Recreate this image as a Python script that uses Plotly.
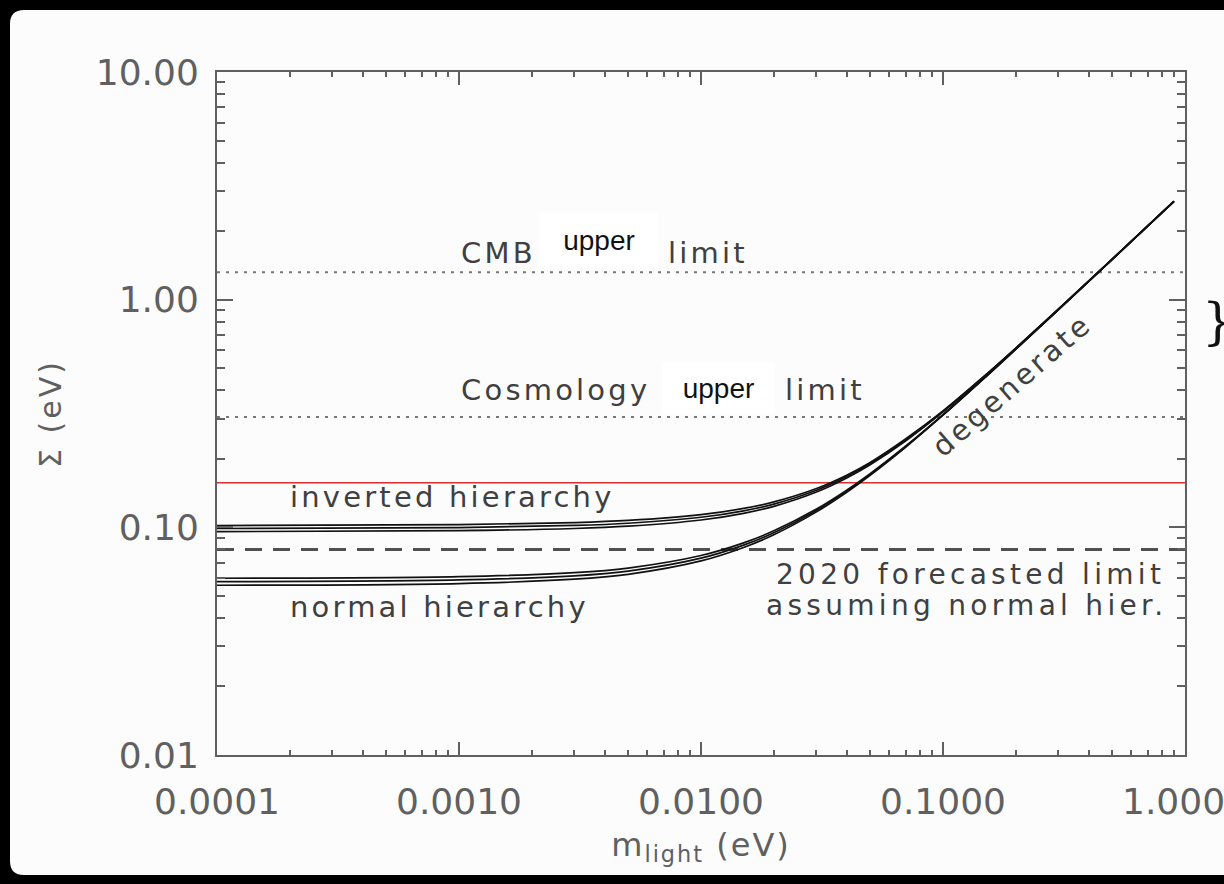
import plotly.graph_objects as go

# ---- data ----
m_light = [0.0001, 0.001, 0.003, 0.005, 0.01, 0.015, 0.02, 0.03, 0.04, 0.05,
           0.07, 0.1, 0.15, 0.2, 0.3, 0.5, 0.9]

normal_low = [0.05566, 0.05663, 0.05917, 0.06217, 0.07119, 0.08156, 0.09278, 0.1169,
              0.14257, 0.1693, 0.22479, 0.31082, 0.45741, 0.60562, 0.90376, 1.50228, 2.70126]
normal_mid = [0.05775, 0.05872, 0.06125, 0.06424, 0.07323, 0.08355, 0.09471, 0.11867,
              0.14418, 0.17074, 0.22597, 0.31173, 0.45805, 0.6061, 0.9041, 1.5025, 2.7014]
normal_high = [0.05975, 0.06072, 0.06325, 0.06623, 0.07519, 0.08547, 0.09656, 0.12038,
               0.14574, 0.17215, 0.22713, 0.31262, 0.45868, 0.60659, 0.90442, 1.50268, 2.70148]

inverted_low = [0.09575, 0.09668, 0.09884, 0.10118, 0.10772, 0.11525, 0.12368, 0.14291,
                0.1647, 0.18838, 0.23956, 0.3217, 0.46488, 0.61128, 0.90758, 1.50457, 2.70254]
inverted_mid = [0.09884, 0.09976, 0.10192, 0.10424, 0.11074, 0.11819, 0.12654, 0.14554,
                0.16709, 0.19053, 0.24132, 0.32305, 0.46583, 0.612, 0.90807, 1.50487, 2.7027]
inverted_high = [0.10183, 0.10275, 0.10491, 0.10722, 0.11368, 0.12107, 0.12931, 0.14811,
                 0.16942, 0.19265, 0.24421, 0.32439, 0.46678, 0.61274, 0.90856, 1.50517, 2.70286]

x_range = [0.0001, 1.0]
cmb_limit = 1.32
cosmology_limit = 0.305
red_limit = 0.157
forecast_limit = 0.080

x_tickvals = [0.0001, 0.001, 0.01, 0.1, 1.0]
x_ticktext = ["0.0001", "0.0010", "0.0100", "0.1000", "1.0000"]
y_tickvals = [0.01, 0.1, 1.0, 10.0]
y_ticktext = ["0.01", "0.10", "1.00", "10.00"]

# ---- figure ----
fig = go.Figure()

FONT = "DejaVu Sans"
AX = "#606060"
TXT = "#404040"

def hline(y, color, dash, width):
    fig.add_trace(go.Scatter(x=x_range, y=[y, y], mode="lines",
                             line=dict(color=color, dash=dash, width=width),
                             hoverinfo="skip", showlegend=False))

hline(cmb_limit, "#777777", "3px,6px", 2)
hline(cosmology_limit, "#777777", "3px,6px", 2)
hline(forecast_limit, "#505050", "17px,11px", 3)
hline(red_limit, "#dd2f2f", "solid", 1.5)

for ys in [normal_low, normal_mid, normal_high, inverted_low, inverted_mid, inverted_high]:
    fig.add_trace(go.Scatter(x=m_light, y=ys, mode="lines",
                             line=dict(color="#111111", width=1.7, shape="spline", smoothing=1.0),
                             hoverinfo="skip", showlegend=False))

def px2lx(px):
    return -4 + (px - 217) / 242.0

def py2ly(py):
    return 1 - (py - 72) / 227.7

def spaced(text, ls):
    return "<span style='letter-spacing:%spx'>%s</span>" % (ls, text)

def note(text, px, py, anchor="left", size=29, color=TXT, angle=0, ls=3.2):
    fig.add_annotation(text=spaced(text, ls), x=px2lx(px), y=py2ly(py), xref="x", yref="y",
                       xanchor=anchor, yanchor="middle", showarrow=False,
                       textangle=angle, font=dict(family=FONT, size=size, color=color))

def upper_box(cx, cy, w, h):
    fig.add_annotation(text="upper", x=px2lx(cx), y=py2ly(cy), xref="x", yref="y",
                       xanchor="center", yanchor="middle", showarrow=False,
                       width=w, height=h, borderpad=0, bgcolor="white",
                       align="center", valign="middle",
                       font=dict(family="Liberation Sans", size=28, color="#111111"))

note("CMB", 459, 253)
upper_box(599, 240, 118, 54)
note("limit", 666, 253)
note("Cosmology", 459, 390)
upper_box(718, 388, 111, 50)
note("limit", 783, 390)
note("inverted hierarchy", 288, 497)
note("normal hierarchy", 288, 607)
note("2020 forecasted limit", 1167, 575, anchor="right", size=28, ls=4.3)
note("assuming normal hier.", 1169, 606, anchor="right", size=28, ls=4.3)
note("degenerate", 1012, 385, anchor="center", angle=-41)

fig.add_annotation(text="}", x=(1218 - 217) / 968.0, y=(755 - 322) / 683.0,
                   xref="paper", yref="paper", showarrow=False,
                   xanchor="center", yanchor="middle",
                   font=dict(family="DejaVu Serif", size=50, color="#111111"))

# white panel (rounded corners) on black background
def pxx(px):
    return (px - 217) / 968.0

def pxy(py):
    return (755 - py) / 683.0

r = 14
panel_path = ("M {x0},{ya} Q {x0},{yt} {xb},{yt} L {x1},{yt} L {x1},{yb} "
              "L {xb},{yb} Q {x0},{yb} {x0},{yc} Z").format(
    x0=pxx(10), x1=pxx(1240), xb=pxx(10 + r),
    yt=pxy(10), yb=pxy(875), ya=pxy(10 + r), yc=pxy(875 - r))
fig.add_shape(type="path", xref="paper", yref="paper", path=panel_path,
              fillcolor="#fcfcfc", line=dict(width=0), layer="below")

base = dict(showline=True, linecolor=AX, linewidth=2, mirror="ticks",
            ticks="inside", tickwidth=2, tickcolor=AX,
            showgrid=False, zeroline=False, automargin=False,
            tickfont=dict(family=FONT, size=36, color=AX))

fig.update_xaxes(type="log", range=[-4, 0], tickmode="array",
                 tickvals=x_tickvals, ticktext=x_ticktext, ticklen=13,
                 ticklabeloverflow="allow", ticklabelstandoff=14,
                 minor=dict(ticks="inside", ticklen=5, tickwidth=1.5, tickcolor=AX,
                            dtick="D1", showgrid=False),
                 title=dict(text=spaced("m<sub>light</sub> (eV)", 2), standoff=12,
                            font=dict(family=FONT, size=32, color=AX)),
                 **base)
fig.update_yaxes(type="log", range=[-2, 1], tickmode="array",
                 tickvals=y_tickvals, ticktext=y_ticktext, ticklen=16,
                 ticklabelstandoff=9,
                 minor=dict(ticks="inside", ticklen=8, tickwidth=1.5, tickcolor=AX,
                            dtick="D1", showgrid=False),
                 title=dict(text=spaced("Σ (eV)", 3), standoff=25,
                            font=dict(family=FONT, size=30, color=AX)),
                 **base)

fig.update_layout(
    width=1224, height=884,
    margin=dict(l=217, r=39, t=72, b=129, autoexpand=False),
    paper_bgcolor="black", plot_bgcolor="#fcfcfc",
    showlegend=False,
)

fig.write_html("out.html")
